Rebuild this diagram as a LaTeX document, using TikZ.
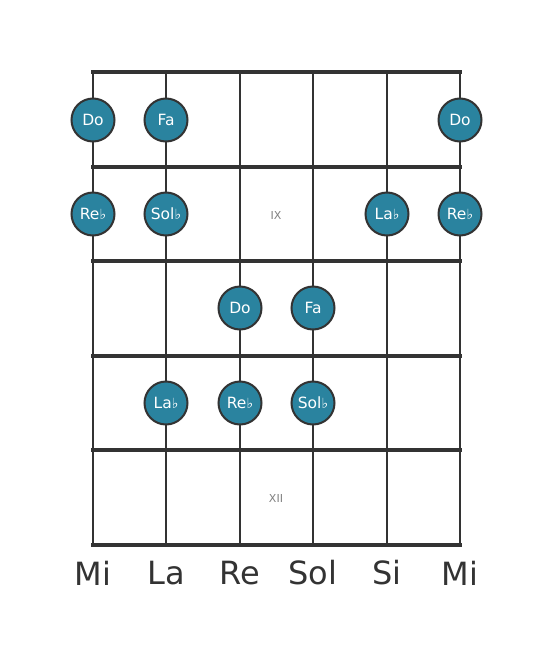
\documentclass[tikz,border=0pt]{standalone}
\usepackage{fontspec}
\setmainfont{DejaVu Sans}
\definecolor{dotfill}{HTML}{2A839F}
\definecolor{ink}{HTML}{333333}
\newcommand{\fl}{{\fontsize{14}{14}\selectfont ♭}}
\begin{document}
\begin{tikzpicture}[x=1pt,y=-1pt,
  fret/.style={draw=ink,line width=4.5pt},
  string/.style={draw=ink,line width=2.8pt},
  note/.style={circle,fill=dotfill,draw=ink,line width=2pt,minimum size=43pt,inner sep=0pt,text=white,font=\fontsize{15.5}{15.5}\selectfont},
  fretnum/.style={text=gray,font=\fontsize{11}{11}\selectfont},
  sname/.style={text=ink,font=\fontsize{32}{32}\selectfont}]
\useasboundingbox (0,0) rectangle (553,656);
\foreach \i/\x in {1/93,2/166,3/240,4/313,5/387,6/460}{
  \coordinate (st\i) at (\x,72);
  \coordinate (sb\i) at (\x,545);
  \draw[string] (st\i) -- (sb\i);
}
\foreach \j/\y in {0/72,1/167,2/261,3/356,4/450,5/545}{
  \coordinate (fl\j) at (93,\y);
  \coordinate (fr\j) at (460,\y);
  \draw[fret,line cap=rect] (fl\j) -- (fr\j);
}
\node[note] (n1) at (93,120) {Do};
\node[note] (n2) at (166,120) {Fa};
\node[note] (n3) at (460,120) {Do};
\node[note] (n4) at (93,214) {Re\fl};
\node[note] (n5) at (166,214) {Sol\fl};
\node[note] (n6) at (387,214) {La\fl};
\node[note] (n7) at (460,214) {Re\fl};
\node[note] (n8) at (240,308) {Do};
\node[note] (n9) at (313,308) {Fa};
\node[note] (n10) at (166,403) {La\fl};
\node[note] (n11) at (240,403) {Re\fl};
\node[note] (n12) at (313,403) {Sol\fl};
\node[fretnum] (ix) at (276,215) {IX};
\node[fretnum] (xii) at (276,498) {XII};
\node[sname] (s1) at (93,573) {Mi};
\node[sname] (s2) at (166,573) {La};
\node[sname] (s3) at (240,573) {Re};
\node[sname] (s4) at (313,573) {Sol};
\node[sname] (s5) at (387,573) {Si};
\node[sname] (s6) at (460,573) {Mi};
\end{tikzpicture}
\end{document}
